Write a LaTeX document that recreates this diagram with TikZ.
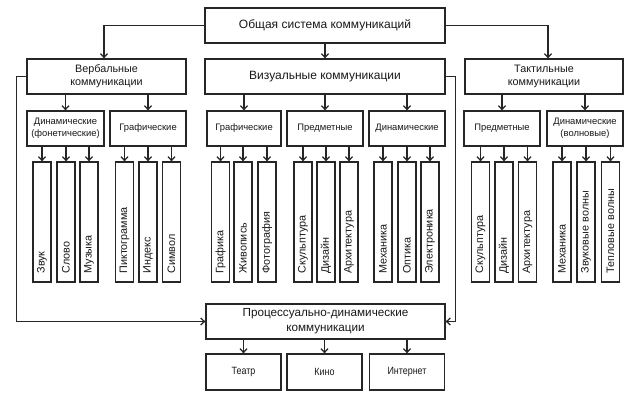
\documentclass[tikz,border=0pt]{standalone}
\usepackage{fontspec}
\setmainfont{Liberation Sans}
\newfontfamily\narrowfont[FakeStretch=0.85]{Liberation Sans}
\usetikzlibrary{arrows.meta}
\begin{document}
\begin{tikzpicture}[x=1pt,y=-1pt,
 box/.style={draw=black!85, line width=1.25pt, inner sep=0pt, align=center, text=black!90},
 big/.style={box, minimum height=35pt, font=\fontsize{12}{14.5}\selectfont},
 mid/.style={box, minimum height=35pt, font=\fontsize{10.8}{13}\selectfont},
 sub/.style={box, minimum width=76pt, minimum height=35pt, font=\fontsize{9.4}{12}\selectfont},
 leaf/.style={box, rotate=90, minimum width=120pt, minimum height=18pt, inner xsep=8.5pt, text width=103pt, align=left, font=\fontsize{10.8}{12}\selectfont},
 bot/.style={box, minimum width=75pt, minimum height=36pt, font=\narrowfont\fontsize{10.5}{12}\selectfont},
 proc/.style={box, minimum width=239pt, minimum height=35pt, font=\fontsize{11.7}{15}\selectfont},
 conn/.style={draw=black!85, line width=1.25pt, -{Straight Barb[length=3.8pt,width=7pt]}},
]
\fill[white] (0,0) rectangle (639,401);
\useasboundingbox (0,0) rectangle (639,401);

\node[big, minimum width=240pt] (top) at (325,25.5) {Общая система коммуникаций};
\node[mid, minimum width=159pt] (verb) at (106.5,76.5) {Вербальные\\коммуникации};
\node[big, minimum width=240pt] (vis) at (325,76.5) {Визуальные коммуникации};
\node[mid, minimum width=158pt] (tact) at (544,76.5) {Тактильные\\коммуникации};

\node[sub, minimum width=77pt] (vd) at (65.5,128.5) {Динамические\\(фонетические)};
\node[sub] (vg) at (148,128.5) {Графические};
\node[sub, minimum width=74pt] (sg) at (244,128.5) {Графические};
\node[sub] (sp) at (325,128.5) {Предметные};
\node[sub] (sd) at (407,128.5) {Динамические};
\node[sub] (tp) at (502,128.5) {Предметные};
\node[sub] (td) at (585,128.5) {Динамические\\(волновые)};

\foreach \n/\x/\p/\t in {
 a1/42/vd/Звук, a2/66/vd/Слово, a3/89/vd/Музыка,
 b1/124.5/vg/Пиктограмма, b2/148/vg/Индекс, b3/171.5/vg/Символ,
 c1/220.5/sg/Графика, c2/243/sg/Живопись, c3/267/sg/Фотография,
 d1/303/sp/Скульптура, d2/326/sp/Дизайн, d3/349/sp/Архитектура,
 e1/383/sd/Механика, e2/407/sd/Оптика, e3/430/sd/Электроника,
 f1/480.5/tp/Скульптура, f2/504/tp/Дизайн, f3/527.5/tp/Архитектура,
 g1/562/td/Механика, g2/586/td/Звуковые волны, g3/610.5/td/Тепловые волны}{
 \node[leaf] (\n) at (\x,222) {\t};
 \draw[conn] (\n.center |- \p.south) -- (\n.east);
}

\node[proc] (pr) at (325.5,321.5) {Процессуально-динамические\\коммуникации};
\node[bot] (t1) at (243.5,372) {Театр};
\node[bot] (t2) at (324.5,372) {Кино};
\node[bot] (t3) at (407,372) {Интернет};

\draw[conn] (top.west) -| ([xshift=-2.5pt]verb.north);
\draw[conn] (top.east) -| ([xshift=4pt]tact.north);
\draw[conn] (top) -- (vis);

\foreach \p/\c in {verb/vd, verb/vg, vis/sg, vis/sp, vis/sd, tact/tp, tact/td}{
 \draw[conn] (\c.north |- \p.south) -- (\c.north);
}

\draw[conn] (verb.west) -- ++(-10,0) |- (pr.west);
\draw[conn] (vis.east) -- ++(10,0) |- (pr.east);

\foreach \c in {t1,t2,t3}{
 \draw[conn] (\c.north |- pr.south) -- (\c.north);
}
\end{tikzpicture}
\end{document}
